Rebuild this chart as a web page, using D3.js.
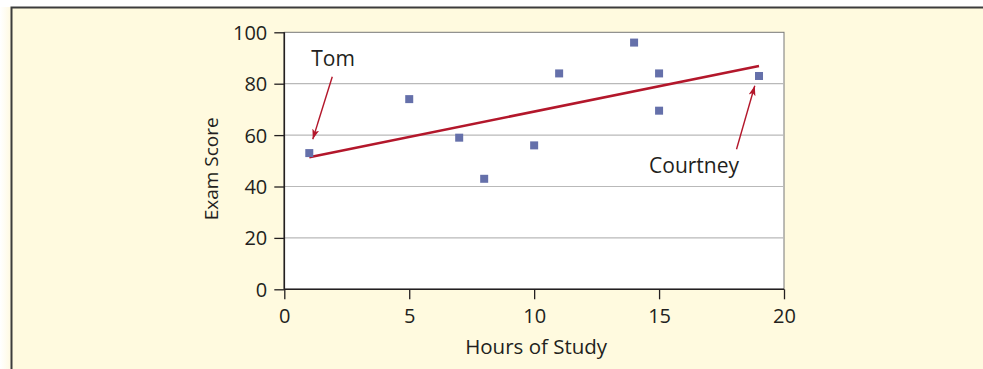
<!DOCTYPE html>
<html>
<head>
<meta charset="utf-8">
<script src="https://cdn.jsdelivr.net/npm/d3@7"></script>
<style>
  html, body { margin: 0; padding: 0; background: #fffdf2; }
  svg { display: block; }
  text { font-family: "Open Sans", "Noto Sans", sans-serif; fill: #231f20; }
</style>
</head>
<body>
<svg id="chart" width="983" height="369"></svg>
<script>
// ---- data ----
const hours  = [1, 5, 7, 8, 10, 11, 14, 15, 15, 19];
const scores = [53, 74, 59, 43, 56, 84, 96, 84, 69.5, 83];
const xTicks = [0, 5, 10, 15, 20];
const yTicks = [0, 20, 40, 60, 80, 100];
const trendX = [1, 19];
const trendY = [51.4, 86.9];
const labelNames = ["Tom", "Courtney"];
const labelX = [1.95, 16.4];
const labelY = [86.9, 45.3];
const arrowFromX = [1.92, 18.1];
const arrowFromY = [82.7, 54.5];
const arrowToX = [1.14, 18.83];
const arrowToY = [58.4, 79.2];
const xTitle = "Hours of Study";
const yTitle = "Exam Score";

// ---- layout ----
const W = 983, H = 369;
const pL = 284.3, pR = 784, pT = 32.3, pB = 289.3;
const svg = d3.select("#chart");

// outer panel
const defs = svg.append("defs");
const grad = defs.append("linearGradient").attr("id", "lg").attr("x1", 0).attr("x2", 1);
grad.append("stop").attr("offset", "0%").attr("stop-color", "#ffffff");
grad.append("stop").attr("offset", "100%").attr("stop-color", "#fff9df");
svg.append("rect").attr("x", 0).attr("y", 0).attr("width", 12).attr("height", H).attr("fill", "url(#lg)");
svg.append("rect").attr("x", 0).attr("y", 0).attr("width", W).attr("height", 7).attr("fill", "#ffffff");
svg.append("rect").attr("x", 11.5).attr("y", 7.5).attr("width", W).attr("height", H)
  .attr("fill", "#fffadf");
svg.append("path").attr("d", `M11.5,${H} V7.5 H${W}`)
  .attr("fill", "none").attr("stroke", "#3c3c3c").attr("stroke-width", 2);

const x = d3.scaleLinear().domain([0, 20]).range([pL, pR]);
const y = d3.scaleLinear().domain([0, 100]).range([pB, pT]);

// plot area
svg.append("rect").attr("x", pL).attr("y", pT)
  .attr("width", pR - pL).attr("height", pB - pT)
  .attr("fill", "#ffffff").attr("stroke", "#777").attr("stroke-width", 1);

// gridlines
svg.append("g").selectAll("line").data(yTicks.filter(d => d > 0 && d < 100)).join("line")
  .attr("x1", pL).attr("x2", pR)
  .attr("y1", d => y(d)).attr("y2", d => y(d))
  .attr("stroke", "#b9b9b9").attr("stroke-width", 1.2);

// axes
const gx = svg.append("g").attr("transform", `translate(0,${pB})`)
  .call(d3.axisBottom(x).tickValues(xTicks).tickSize(10).tickPadding(9.5).tickFormat(d3.format("d")));
const gy = svg.append("g").attr("transform", `translate(${pL},0)`)
  .call(d3.axisLeft(y).tickValues(yTicks).tickSize(10).tickPadding(7).tickFormat(d3.format("d")));
[gx, gy].forEach(g => {
  g.select(".domain").attr("stroke", "#231f20").attr("stroke-width", 1.6);
  g.selectAll(".tick line").attr("stroke", "#231f20").attr("stroke-width", 1.3);
  g.selectAll(".tick text").style("font-family", '"Open Sans", sans-serif')
    .style("font-size", "20px").attr("fill", "#231f20");
});
gy.select(".domain").attr("d", `M0,${pB}V${pT}`);
gx.select(".domain").attr("d", `M${pL},0H${pR}`);
gy.selectAll(".tick text").attr("dy", "0.35em");

// axis titles
svg.append("text").attr("x", (pL + pR) / 2 + 2).attr("y", 354)
  .attr("text-anchor", "middle").style("font-size", "20.5px").text(xTitle);
svg.append("text").attr("transform", `translate(218,${(pT + pB) / 2 + 8}) rotate(-90)`)
  .attr("text-anchor", "middle").style("font-size", "19px").text(yTitle);

// trend line
svg.append("line")
  .attr("x1", x(trendX[0])).attr("y1", y(trendY[0]))
  .attr("x2", x(trendX[1])).attr("y2", y(trendY[1]))
  .attr("stroke", "#b3172b").attr("stroke-width", 2.6);

// points
svg.append("g").selectAll("rect").data(hours.map((h, i) => [h, scores[i]])).join("rect")
  .attr("x", d => x(d[0]) - 4).attr("y", d => y(d[1]) - 4)
  .attr("width", 8).attr("height", 8).attr("fill", "#6570aa");

// annotations
defs.append("marker").attr("id", "ah").attr("viewBox", "0 0 10 10")
  .attr("refX", 10).attr("refY", 5).attr("markerWidth", 10).attr("markerHeight", 10)
  .attr("markerUnits", "userSpaceOnUse").attr("orient", "auto")
  .append("path").attr("d", "M0,1.5 L10,5 L0,8.5 L2.5,5 Z").attr("fill", "#b3172b");

labelNames.forEach((name, i) => {
  svg.append("text").attr("x", x(labelX[i])).attr("y", y(labelY[i]))
    .attr("text-anchor", "middle").style("font-size", "21px").text(name);
  svg.append("line")
    .attr("x1", x(arrowFromX[i])).attr("y1", y(arrowFromY[i]))
    .attr("x2", x(arrowToX[i])).attr("y2", y(arrowToY[i]))
    .attr("stroke", "#b3172b").attr("stroke-width", 1.4)
    .attr("marker-end", "url(#ah)");
});
</script>
</body>
</html>
